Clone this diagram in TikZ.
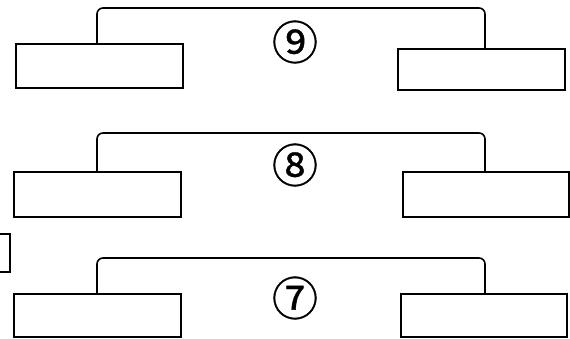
\documentclass[tikz,border=0pt]{standalone}
\usepackage{fontspec}
\newfontfamily\circfont{Noto Sans CJK JP}[FakeBold=0.8]
\begin{document}
\begin{tikzpicture}[x=1pt,y=-1pt,
  box/.style={draw, line width=1.8pt, inner sep=0pt},
  bracket/.style={draw, line width=1.6pt, rounded corners=6pt},
  num/.style={inner sep=0pt, font=\circfont\fontsize{46}{46}\selectfont}]
\useasboundingbox[fill=white] (0,0) rectangle (570,338);
% top group
\node[box, minimum width=167pt, minimum height=44pt] (L9) at (99.5,66) {};
\node[box, minimum width=167pt, minimum height=41pt] (R9) at (481.5,69.5) {};
\coordinate (b9l) at (97,8);
\coordinate (b9r) at (485,8);
\draw[bracket] (L9.north -| b9l) -- (b9l) -- (b9r) -- (R9.north -| b9r);
\node[num] (n9) at (295,42) {⑨};
% middle group
\node[box, minimum width=167pt, minimum height=45pt] (L8) at (97.5,194.5) {};
\node[box, minimum width=166pt, minimum height=45pt] (R8) at (486,194.5) {};
\coordinate (b8l) at (97,133);
\coordinate (b8r) at (485,133);
\draw[bracket] (L8.north -| b8l) -- (b8l) -- (b8r) -- (R8.north -| b8r);
\node[num] (n8) at (295,165) {⑧};
% partial box at left
\node[box, minimum width=20pt, minimum height=38pt] (S) at (0,253) {};
% bottom group
\node[box, minimum width=167pt, minimum height=43pt] (L7) at (97.5,315.5) {};
\node[box, minimum width=166pt, minimum height=43pt] (R7) at (484,315.5) {};
\coordinate (b7l) at (97,258);
\coordinate (b7r) at (485,258);
\draw[bracket] (L7.north -| b7l) -- (b7l) -- (b7r) -- (R7.north -| b7r);
\node[num] (n7) at (295,298) {⑦};
\end{tikzpicture}
\end{document}
